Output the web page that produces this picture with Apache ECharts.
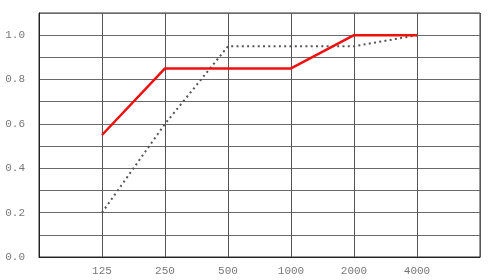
<!DOCTYPE html>
<html><head><meta charset="utf-8">
<script src="https://cdn.jsdelivr.net/npm/echarts@6/dist/echarts.min.js"></script>
<style>html,body{margin:0;padding:0;background:#fff}#c{width:500px;height:280px}</style>
</head><body><div id="c"></div>
<script>
const categories = ['', '125', '250', '500', '1000', '2000', '4000', ''];
const solidValues = [null, 0.55, 0.85, 0.85, 0.85, 1.0, 1.0, null];
const dottedValues = [null, 0.2, 0.6, 0.95, 0.95, 0.95, 1.0, null];
const yTickLabels = ['0.0', '0.2', '0.4', '0.6', '0.8', '1.0'];

const chart = echarts.init(document.getElementById('c'));
chart.setOption({
  animation: false,
  grid: {left: 39, right: 20, top: 13, bottom: 23, show: true, borderColor: '#333', borderWidth: 1},
  xAxis: {
    type: 'category', data: categories, boundaryGap: false,
    axisLine: {lineStyle: {color: '#222', width: 1}},
    axisTick: {show: false},
    axisLabel: {color: '#777', fontFamily: 'Liberation Mono', fontSize: 11, margin: 9, interval: 0},
    splitLine: {show: true, lineStyle: {color: '#555', width: 1}}
  },
  yAxis: {
    type: 'value', min: 0, max: 1.1, interval: 0.1,
    axisLine: {show: true, lineStyle: {color: '#222', width: 1}},
    axisTick: {show: false},
    axisLabel: {color: '#777', fontFamily: 'Liberation Mono', fontSize: 11, margin: 14,
      formatter: v => { const s = v.toFixed(1); return Math.round(v*10) % 2 === 0 && yTickLabels.includes(s) ? s : ''; }},
    splitLine: {show: true, lineStyle: {color: '#6a6a6a', width: 1}}
  },
  series: [
    {type: 'line', data: dottedValues, symbol: 'none', connectNulls: false,
     lineStyle: {color: '#555', width: 2, type: [2, 3.3]}},
    {type: 'line', data: solidValues, symbol: 'none', connectNulls: false,
     lineStyle: {color: '#f01010', width: 2.5}}
  ]
});
</script></body></html>
